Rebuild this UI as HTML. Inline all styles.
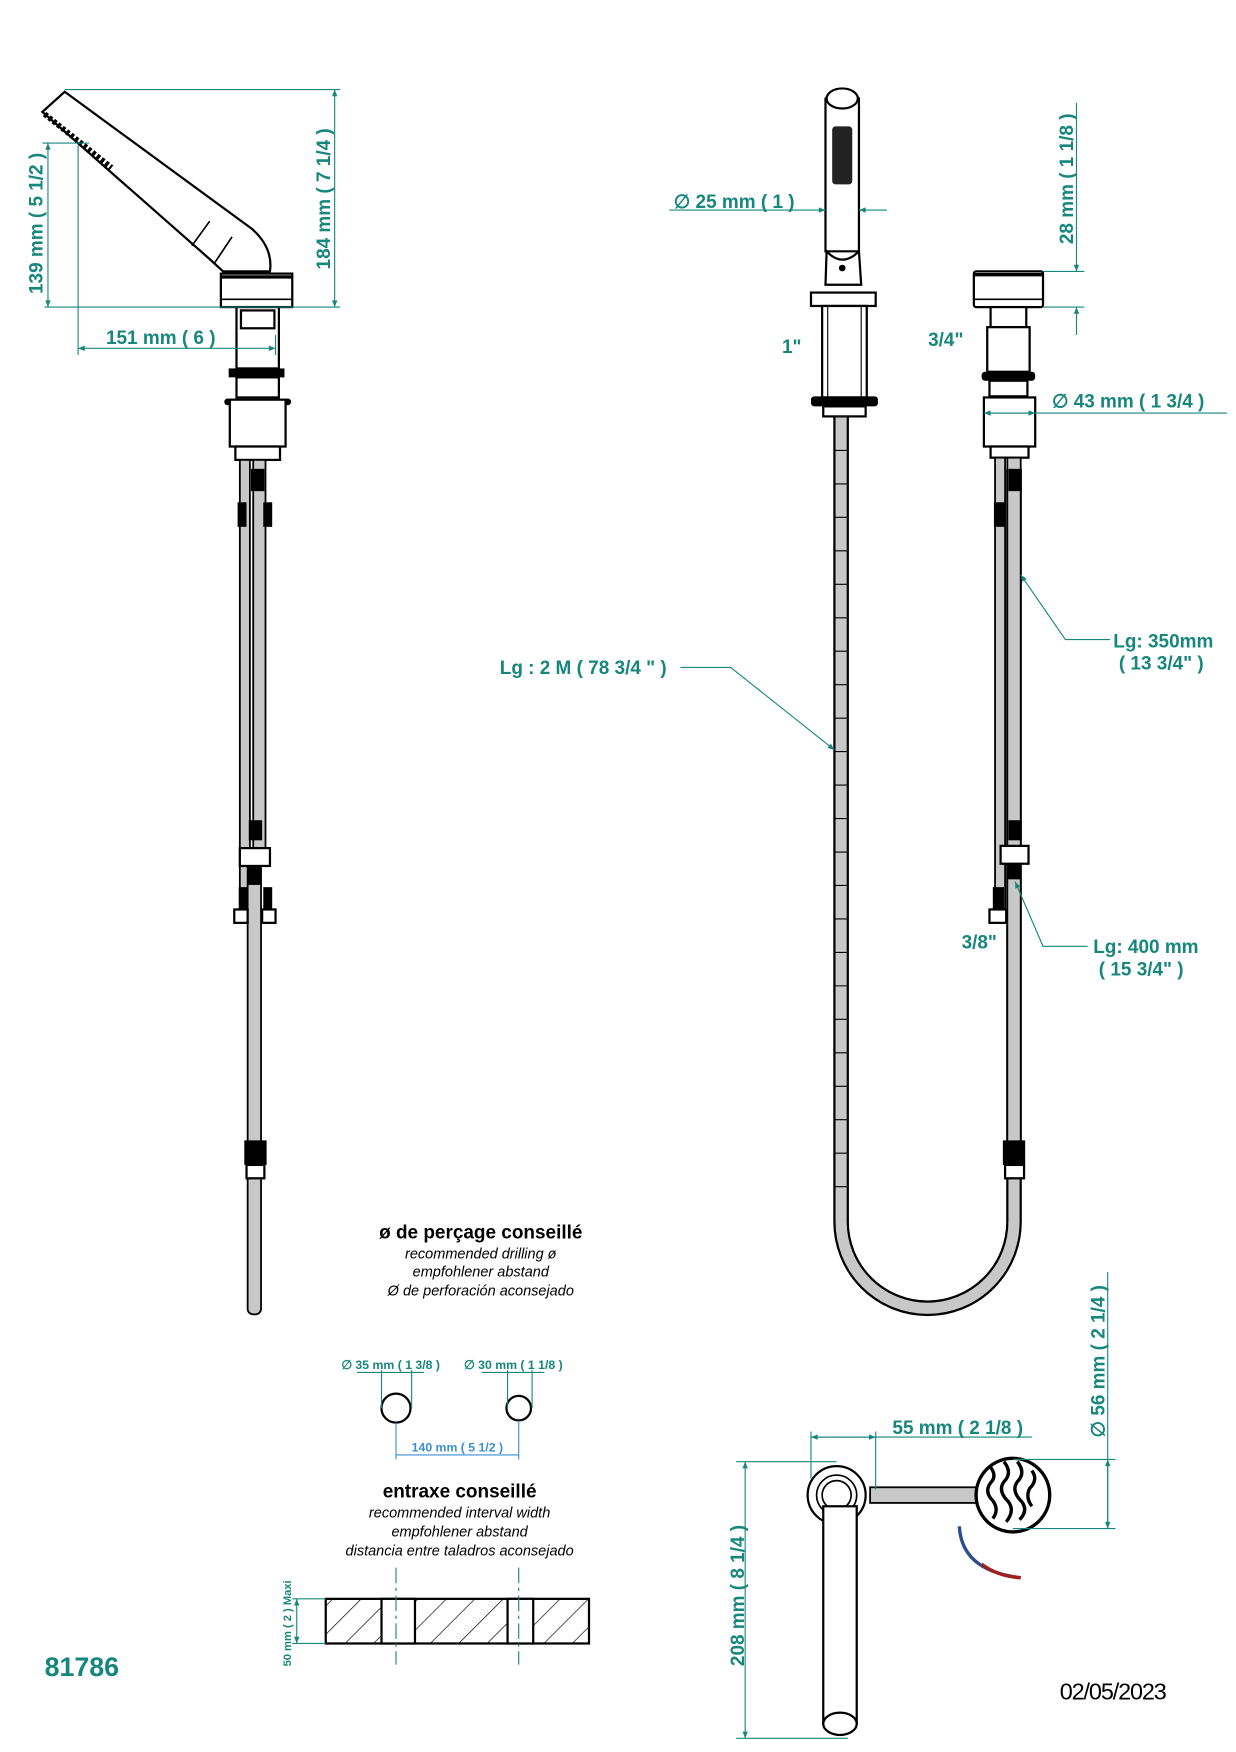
<!DOCTYPE html>
<html><head><meta charset="utf-8"><style>
html,body{margin:0;padding:0;background:#fff}
svg{display:block}
.t{fill:#17877d;font-family:"Liberation Sans",sans-serif;font-weight:bold}
.d{stroke:#17877d;stroke-width:1;fill:none}
.k{stroke:#000;stroke-width:2;fill:#fff}
.h{stroke:#000;stroke-width:1.6;fill:#c8c8c8}
.i{font-family:"Liberation Sans",sans-serif;font-style:italic;font-size:13px;fill:#000}
</style></head><body>
<svg width="1236" height="1752" viewBox="0 0 1108 1570" xmlns="http://www.w3.org/2000/svg">
<defs>
<marker id="a" viewBox="0 0 10 10" refX="10" refY="5" markerWidth="9" markerHeight="6" orient="auto-start-reverse"><path d="M0,1 L10,5 L0,9z" fill="#17877d"/></marker>
<pattern id="hat" width="18" height="18" patternUnits="userSpaceOnUse" patternTransform="rotate(45)"><line x1="0" y1="0" x2="0" y2="18" stroke="#000" stroke-width="1.2"/></pattern>
</defs>

<!-- LEFT UNIT -->
<path class="k" d="M58,82 L226,205 Q245,222 242,243 L200,243 L188,232 L38,100 Z"/>
<line x1="188" y1="198" x2="172" y2="220" stroke="#000" stroke-width="1.5"/>
<line x1="208" y1="212" x2="192" y2="236" stroke="#000" stroke-width="1.5"/>
<path d="M40,102 L100,150" stroke="#000" stroke-width="5" stroke-dasharray="3,2"/>
<rect class="k" x="198" y="245" width="64" height="30"/>
<line x1="198" y1="248" x2="262" y2="248" stroke="#000" stroke-width="3"/>
<line x1="198" y1="268" x2="262" y2="268" stroke="#000" stroke-width="1.5"/>
<rect class="k" x="212" y="275" width="38" height="55"/>
<rect class="k" x="216" y="278" width="30" height="16"/>
<rect x="205" y="330" width="50" height="8" fill="#000"/>
<rect class="k" x="212" y="338" width="38" height="18"/>
<rect class="k" x="206" y="358" width="50" height="42"/>
<circle cx="204" cy="360" r="3" fill="#000"/><circle cx="258" cy="360" r="3" fill="#000"/>
<rect class="k" x="211" y="400" width="40" height="12"/>
<rect class="h" x="215" y="412" width="9" height="410"/>
<rect class="h" x="227" y="412" width="11" height="350"/>
<rect class="h" x="222" y="760" width="12" height="418" rx="5"/>
<g fill="#000">
<rect x="225" y="420" width="12" height="20"/><rect x="213" y="450" width="8" height="22"/><rect x="236" y="450" width="8" height="22"/>
<rect x="223" y="735" width="12" height="18"/><rect x="222" y="777" width="12" height="16"/>
<rect x="214" y="795" width="8" height="22"/><rect x="236" y="795" width="8" height="22"/>
<rect x="219" y="1022" width="20" height="22"/>
</g>
<rect class="k" x="215" y="760" width="27" height="16"/>
<rect class="k" x="210" y="815" width="12" height="12"/><rect class="k" x="235" y="815" width="12" height="12"/>
<rect class="k" x="221" y="1044" width="16" height="12"/>
<!-- left dims -->
<line class="d" x1="58" y1="80" x2="305" y2="80"/>
<line class="d" x1="40" y1="275" x2="305" y2="275"/>
<line class="d" x1="300" y1="80" x2="300" y2="275" marker-start="url(#a)" marker-end="url(#a)"/>
<text class="t" font-size="17" transform="translate(296,178) rotate(-90)" text-anchor="middle">184 mm ( 7 1/4 )</text>
<line class="d" x1="38" y1="128" x2="80" y2="128"/>
<line class="d" x1="43" y1="128" x2="43" y2="275" marker-start="url(#a)" marker-end="url(#a)"/>
<text class="t" font-size="17" transform="translate(38,200) rotate(-90)" text-anchor="middle">139 mm ( 5 1/2 )</text>
<line class="d" x1="70" y1="130" x2="70" y2="318"/>
<line class="d" x1="70" y1="312" x2="247" y2="312" marker-start="url(#a)" marker-end="url(#a)"/>
<line class="d" x1="247" y1="300" x2="247" y2="318"/>
<text class="t" font-size="17" x="95" y="308">151 mm ( 6 )</text>

<!-- RIGHT UNIT hand shower -->
<path class="k" d="M740,88 Q755,72 770,88 L770,225 L740,225 Z"/>
<ellipse cx="755" cy="88" rx="14" ry="9" fill="#fff" stroke="#000" stroke-width="2"/>
<rect x="746" y="113" width="18" height="52" rx="3" fill="#222"/>
<path class="k" d="M741,225 Q755,240 770,225 L772,255 L740,255 Z"/>
<circle cx="755" cy="240" r="3" fill="#000"/>
<rect class="k" x="727" y="262" width="58" height="12"/>
<rect class="k" x="737" y="274" width="40" height="82"/>
<line x1="742" y1="274" x2="742" y2="356" stroke="#000"/><line x1="772" y1="274" x2="772" y2="356" stroke="#000"/>
<rect x="727" y="355" width="60" height="9" rx="3" fill="#000"/>
<rect class="k" x="738" y="364" width="38" height="9"/>
<!-- long hose with U -->
<path d="M754,373 L754,1095 A77,77 0 0 0 909,1095 L909,420" fill="none" stroke="#000" stroke-width="14"/>
<path d="M754,373 L754,1095 A77,77 0 0 0 909,1095 L909,420" fill="none" stroke="#c8c8c8" stroke-width="10"/>
<path d="M754,373 L754,1090" stroke="#000" stroke-width="10" stroke-dasharray="1,29" fill="none"/>
<!-- right valve -->
<rect class="k" x="873" y="243" width="62" height="32" rx="2"/>
<line x1="873" y1="246" x2="935" y2="246" stroke="#000" stroke-width="3"/>
<line x1="873" y1="268" x2="935" y2="268" stroke="#000" stroke-width="1.5"/>
<rect class="k" x="888" y="275" width="32" height="18"/>
<rect class="k" x="885" y="293" width="38" height="40"/>
<rect x="880" y="333" width="48" height="8" rx="3" fill="#000"/>
<rect class="k" x="887" y="341" width="34" height="14"/>
<rect class="k" x="882" y="356" width="46" height="44"/>
<rect class="k" x="888" y="400" width="34" height="10"/>
<rect class="h" x="892" y="410" width="9" height="415"/>
<rect class="h" x="903" y="410" width="12" height="630"/>
<g fill="#000">
<rect x="904" y="420" width="12" height="20"/><rect x="891" y="450" width="10" height="22"/>
<rect x="904" y="735" width="12" height="18"/><rect x="903" y="772" width="12" height="16"/>
<rect x="890" y="795" width="10" height="22"/><rect x="899" y="1022" width="20" height="22"/>
</g>
<rect class="k" x="897" y="758" width="25" height="16"/>
<rect class="k" x="887" y="815" width="15" height="12"/>
<rect class="k" x="901" y="1044" width="17" height="12"/>
<!-- right dims -->
<line class="d" x1="600" y1="188" x2="740" y2="188" marker-end="url(#a)"/>
<line class="d" x1="795" y1="188" x2="770" y2="188" marker-end="url(#a)"/>
<text class="t" font-size="17" x="604" y="186">∅ 25 mm ( 1 )</text>
<line class="d" x1="965" y1="92" x2="965" y2="243" marker-end="url(#a)"/>
<line class="d" x1="965" y1="300" x2="965" y2="275" marker-end="url(#a)"/>
<line class="d" x1="935" y1="243" x2="972" y2="243"/>
<line class="d" x1="935" y1="275" x2="972" y2="275"/>
<text class="t" font-size="17" transform="translate(962,160) rotate(-90)" text-anchor="middle">28 mm ( 1 1/8 )</text>
<line class="d" x1="882" y1="370" x2="1100" y2="370"/>
<line class="d" x1="905" y1="370" x2="882" y2="370" marker-end="url(#a)"/>
<line class="d" x1="905" y1="370" x2="928" y2="370" marker-end="url(#a)"/>
<text class="t" font-size="17" x="943" y="365">∅ 43 mm ( 1 3/4 )</text>
<text class="t" font-size="17" x="701" y="316">1"</text>
<text class="t" font-size="17" x="832" y="310">3/4"</text>
<text class="t" font-size="17" x="862" y="850">3/8"</text>
<text class="t" font-size="17" x="448" y="604">Lg : 2 M ( 78 3/4 " )</text>
<polyline class="d" points="610,598 655,598 748,672" marker-end="url(#a)"/>
<text class="t" font-size="17" x="998" y="580">Lg: 350mm</text>
<text class="t" font-size="17" x="1003" y="600">( 13 3/4" )</text>
<polyline class="d" points="995,573 955,573 915,515" marker-end="url(#a)"/>
<text class="t" font-size="17" x="980" y="854">Lg: 400 mm</text>
<text class="t" font-size="17" x="985" y="874">( 15 3/4" )</text>
<polyline class="d" points="975,848 935,848 910,790" marker-end="url(#a)"/>

<!-- middle texts -->
<g font-family="Liberation Sans, sans-serif" text-anchor="middle">
<text x="431" y="1110" font-size="17" font-weight="bold">ø de perçage conseillé</text>
<text class="i" x="431" y="1128">recommended drilling ø</text>
<text class="i" x="431" y="1144">empfohlener abstand</text>
<text class="i" x="431" y="1161">Ø de perforación aconsejado</text>
<text x="412" y="1342" font-size="17" font-weight="bold">entraxe conseillé</text>
<text class="i" x="412" y="1360">recommended interval width</text>
<text class="i" x="412" y="1377">empfohlener abstand</text>
<text class="i" x="412" y="1394">distancia entre taladros aconsejado</text>
</g>
<circle cx="355" cy="1262" r="13" fill="none" stroke="#000" stroke-width="2"/>
<circle cx="465" cy="1262" r="11" fill="none" stroke="#000" stroke-width="2"/>
<line class="d" x1="342" y1="1228" x2="342" y2="1262"/><line class="d" x1="369" y1="1228" x2="369" y2="1262"/>
<line class="d" x1="455" y1="1228" x2="455" y2="1262"/><line class="d" x1="477" y1="1228" x2="477" y2="1262"/>
<line class="d" x1="320" y1="1230" x2="380" y2="1230"/><line class="d" x1="432" y1="1230" x2="488" y2="1230"/>
<text class="t" font-size="11" x="306" y="1227">∅  35 mm ( 1 3/8 )</text>
<text class="t" font-size="11" x="416" y="1227">∅  30 mm ( 1 1/8 )</text>
<line x1="355" y1="1275" x2="355" y2="1308" stroke="#3b8fd6"/><line x1="465" y1="1273" x2="465" y2="1308" stroke="#3b8fd6"/>
<line x1="355" y1="1304" x2="465" y2="1304" stroke="#3b8fd6"/>
<text x="410" y="1301" font-size="11" font-weight="bold" fill="#3b8fd6" font-family="Liberation Sans, sans-serif" text-anchor="middle">140 mm ( 5 1/2 )</text>
<rect x="292" y="1433" width="236" height="40" fill="url(#hat)" stroke="#000" stroke-width="2"/>
<rect x="342" y="1433" width="30" height="40" fill="#fff" stroke="#000" stroke-width="2"/>
<rect x="455" y="1433" width="23" height="40" fill="#fff" stroke="#000" stroke-width="2"/>
<line x1="355" y1="1405" x2="355" y2="1492" stroke="#17877d" stroke-dasharray="14,4,3,4"/>
<line x1="465" y1="1405" x2="465" y2="1492" stroke="#17877d" stroke-dasharray="14,4,3,4"/>
<line class="d" x1="262" y1="1433" x2="292" y2="1433"/><line class="d" x1="262" y1="1473" x2="292" y2="1473"/>
<line class="d" x1="266" y1="1433" x2="266" y2="1473" marker-start="url(#a)" marker-end="url(#a)"/>
<text class="t" font-size="10" transform="translate(261,1455) rotate(-90)" text-anchor="middle">50 mm ( 2 )  Maxi</text>
<text class="t" font-size="24" x="40" y="1502">81786</text>
<text x="950" y="1523" font-size="21" font-family="Liberation Sans, sans-serif" fill="#000" textLength="96">02/05/2023</text>

<!-- bottom right top view -->
<rect class="h" x="780" y="1333" width="100" height="14"/>
<circle cx="750" cy="1340" r="26" fill="#fff" stroke="#000" stroke-width="2"/>
<circle cx="750" cy="1340" r="18" fill="none" stroke="#000" stroke-width="1.5"/>
<circle cx="750" cy="1340" r="13" fill="none" stroke="#000" stroke-width="1.5"/>
<rect class="k" x="738" y="1350" width="30" height="195"/>
<ellipse cx="753" cy="1545" rx="15" ry="10" fill="#fff" stroke="#000" stroke-width="2"/>
<circle cx="908" cy="1340" r="33" fill="#fff" stroke="#000" stroke-width="3"/>
<g fill="none" stroke="#000" stroke-width="3">
<path d="M888,1315 q6,8 0,14 q-6,8 2,16 q6,8 0,16"/>
<path d="M900,1310 q8,10 0,18 q-6,8 4,18 q6,8 -2,18"/>
<path d="M912,1310 q8,10 0,18 q-6,8 4,18 q6,8 -2,16"/>
<path d="M925,1318 q6,8 -2,16 q-4,8 2,16"/>
</g>
<path d="M860,1368 Q862,1408 915,1414" fill="none" stroke="#2a4d8f" stroke-width="3"/>
<path d="M880,1402 Q895,1413 915,1414" fill="none" stroke="#a02020" stroke-width="3"/>
<line class="d" x1="727" y1="1288" x2="925" y2="1288"/>
<line class="d" x1="727" y1="1288" x2="785" y2="1288" marker-start="url(#a)" marker-end="url(#a)"/>
<line class="d" x1="727" y1="1283" x2="727" y2="1325"/><line class="d" x1="785" y1="1283" x2="785" y2="1335"/>
<text class="t" font-size="17" x="800" y="1285">55 mm ( 2 1/8 )</text>
<line class="d" x1="908" y1="1308" x2="1000" y2="1308"/><line class="d" x1="908" y1="1370" x2="1000" y2="1370"/>
<line class="d" x1="993" y1="1140" x2="993" y2="1370"/>
<line class="d" x1="993" y1="1340" x2="993" y2="1308" marker-end="url(#a)"/>
<line class="d" x1="993" y1="1340" x2="993" y2="1370" marker-end="url(#a)"/>
<text class="t" font-size="17" transform="translate(990,1220) rotate(-90)" text-anchor="middle">∅ 56 mm ( 2 1/4 )</text>
<line class="d" x1="660" y1="1310" x2="750" y2="1310"/><line class="d" x1="660" y1="1558" x2="760" y2="1558"/>
<line class="d" x1="668" y1="1310" x2="668" y2="1558" marker-start="url(#a)" marker-end="url(#a)"/>
<text class="t" font-size="17" transform="translate(667,1430) rotate(-90)" text-anchor="middle">208 mm ( 8 1/4 )</text>
</svg>
</body></html>
